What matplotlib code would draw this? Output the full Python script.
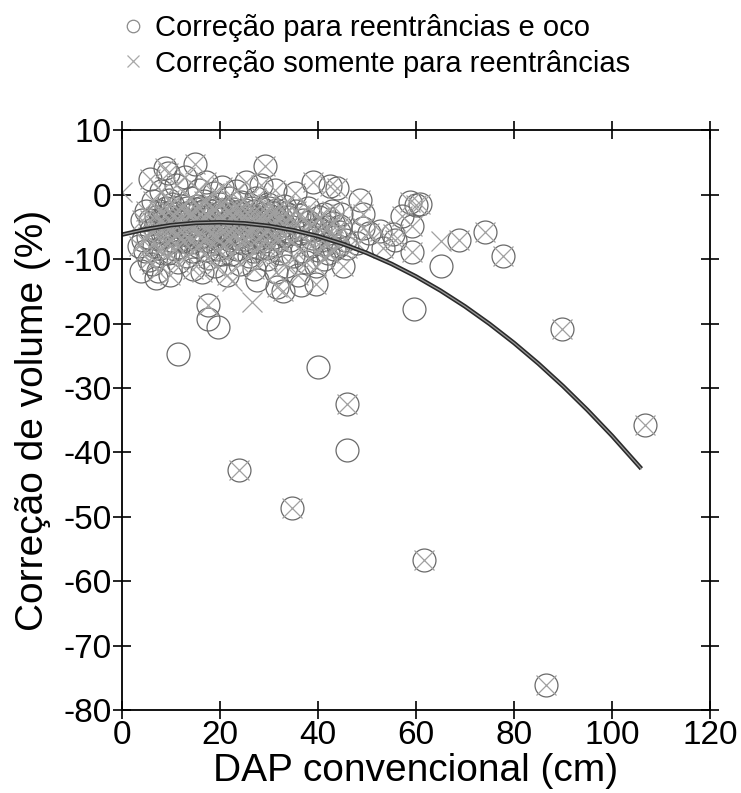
import matplotlib
matplotlib.use("Agg")
import matplotlib.pyplot as plt
from matplotlib.lines import Line2D

plt.rcParams['font.family'] = ['Liberation Sans', 'DejaVu Sans']
plt.rcParams['axes.unicode_minus'] = False

# --- dados: árvores onde as duas correções coincidem (círculo + x) ---
dap_both = [3.5, 4.0, 4.2, 4.7, 5.0, 5.5, 5.7, 6.1, 6.0, 6.3,
            7.4, 7.0, 7.5, 8.0, 8.3, 8.8, 8.5, 9.0, 9.4, 9.2, 9.8, 10.0, 9.6,
            10.5, 10.8, 11.0, 11.2, 11.5, 12.0, 12.3, 12.5, 12.8, 13.0, 13.3, 13.6, 14.0, 14.0,
            14.9, 14.5, 15.0, 15.2, 15.5, 15.8, 16.0, 16.3, 16.5, 16.8, 17.0, 17.2, 17.5, 17.8,
            18.2, 18.5, 18.8, 19.0, 19.3, 19.6, 20.0, 20.2, 20.5, 20.8, 21.2, 21.5, 21.8, 22.0,
            22.3, 22.6, 23.0, 23.3, 23.6, 24.0, 24.3, 24.6, 25.0, 25.3, 25.6, 25.9,
            26.3, 26.6, 27.0, 27.3, 27.6, 28.0, 28.3, 28.6, 29.0, 29.2, 29.5, 29.8,
            30.2, 30.5, 30.8, 31.2, 31.5, 31.6, 31.8, 32.2, 32.5, 32.9, 33.0, 33.5, 33.8,
            34.2, 34.6, 35.3, 35.0, 35.5, 36.0, 36.5, 37.0, 37.5, 38.0, 38.5, 39.0, 39.2, 39.7, 39.5,
            40.2, 40.8, 41.3, 41.8, 42.4, 42.8, 43.3, 43.8, 44.2, 44.8, 45.5, 45.9, 45.2,
            48.6, 49.2, 49.2, 48.0, 50.5, 52.7, 53.3, 55.4, 55.7, 57.1, 58.8, 59.1, 59.1, 60.8, 60.1,
            17.6, 23.9, 34.6, 45.9, 61.7, 86.5, 106.7, 89.9, 77.8, 74.1, 68.8]
corr_both = [-8.0, -4.0, -7.1, -8.7, -2.5, -10.2, 2.4, -10.7, -5.5, -1.0,
             -11.8, -3.5, -6.8, 0.5, -9.0, 4.2, -4.8, -2.0, 3.4, -7.5, -12.5, -5.5, -0.8,
             -3.0, -8.5, 1.5, -6.0, -10.5, -4.2, -1.8, -7.2, 2.8, -5.0, -9.5, -3.2, -0.5, -6.5,
             4.7, -11.5, -4.0, -2.2, -8.0, 0.8, -5.8, -12.0, -3.5, -1.0, -7.0, 2.0, -9.8, -4.8,
             -2.6, -6.2, 0.2, -11.0, -3.8, -8.5, -1.5, -5.2, 1.2, -7.8, -3.0, -12.5, -0.5, -5.8,
             -9.2, -2.2, -6.8, 0.5, -4.2, -10.8, -1.2, -7.5, -3.5, 2.0, -5.5, -9.5,
             -2.0, -6.5, -11.5, -0.5, -4.5, -8.2, 1.5, -3.0, -6.0, 4.5, -10.0, -1.5,
             -5.0, -7.8, -2.8, 0.8, -12.0, -14.4, -4.0, -9.0, -6.0, -14.9, -1.8, -11.0, -3.5,
             -7.0, -5.0, 0.2, -9.5, -2.5, -12.5, -6.0, -4.0, -10.5, -2.0, -8.0, 1.9, -5.5, -13.8, -11.0,
             -3.5, -7.0, -10.0, -5.0, 1.4, -2.5, -8.5, 1.1, -5.8, -3.0, -7.1, -8.2, -11.0,
             -0.9, -3.0, -5.1, -7.5, -6.0, -5.6, -8.2, -6.1, -7.1, -3.3, -1.2, -4.8, -8.9, -1.4, -1.6,
             -17.2, -42.7, -48.6, -32.5, -56.7, -76.2, -35.8, -20.8, -9.5, -5.8, -7.0]

# núcleo denso do agrupamento (também círculo + x)
dap_core = [7.5, 8.2, 8.8, 9.5, 10.2, 10.6, 11.3, 11.8, 12.2, 12.7, 13.2, 13.8, 14.3, 14.7,
            15.3, 15.7, 16.2, 16.6, 17.1, 17.6, 18.0, 18.4, 18.9, 19.4, 19.8, 20.3, 20.7, 21.1,
            21.6, 22.1, 22.5, 22.9, 23.4, 23.8, 24.2, 24.7, 25.2, 25.7, 26.1, 26.5, 27.0, 27.4,
            27.9, 28.3, 28.8, 29.3, 29.7, 30.1, 30.6, 31.0, 31.5, 32.0, 32.4, 33.0, 33.4, 34.0,
            8.0, 9.0, 10.0, 11.0, 12.0, 13.0, 14.0, 15.0, 16.0, 17.0, 18.0, 19.0, 20.0, 21.0,
            22.0, 23.0, 24.0, 25.0, 26.0, 27.0, 28.0, 29.0, 30.0, 31.0, 32.0, 33.0,
            6.8, 6.5, 7.8, 9.3, 11.5, 14.2, 17.3, 20.5, 23.5, 26.8, 29.6, 5.3, 5.8,
            36.2, 37.4, 38.2, 38.8, 40.5, 41.2, 41.6, 42.2, 43.0, 43.5, 44.0, 44.5, 42.0, 40.0, 36.8]
corr_core = [-2.5, -5.8, -3.2, -6.3, -1.5, -4.5, -2.8, -5.5, -3.6, -6.1, -2.0, -4.6, -3.0, -5.5,
             -1.8, -4.2, -6.5, -2.6, -4.9, -3.3, -5.9, -1.9, -4.4, -6.8, -2.9, -5.0, -3.6, -6.3,
             -2.3, -4.7, -3.2, -5.9, -2.7, -5.2, -3.7, -6.4, -2.3, -4.7, -3.3, -5.7, -2.6, -4.9,
             -3.7, -6.3, -2.2, -4.3, -5.6, -3.1, -4.6, -6.5, -2.4, -5.3, -3.6, -4.7, -2.9, -5.6,
             -3.8, -4.9, -7.0, -3.9, -6.9, -2.9, -7.4, -6.0, -2.1, -3.8, -7.2, -2.3, -6.0, -4.4,
             -7.1, -3.9, -2.6, -6.9, -4.1, -7.3, -4.1, -7.2, -2.0, -3.9, -7.1, -6.3,
             -5.2, -7.9, -8.2, -9.0, -8.1, -8.7, -8.6, -9.2, -8.4, -8.8, -8.3, -6.5, -3.9,
             -3.2, -5.6, -4.3, -6.8, -5.4, -3.0, -7.6, -6.0, -4.4, -6.6, -8.0, -4.8, -9.0, -8.6, -8.8]

# só círculo: correção para reentrâncias e oco
dap_oco = [11.4, 17.6, 19.5, 40.1, 46.0, 59.5, 65.1, 3.8, 7.0, 27.5, 36.5]
corr_oco = [-24.7, -19.3, -20.6, -26.8, -39.6, -17.7, -11.1, -11.8, -13.0, -13.2, -14.0]

# só x: correção somente para reentrâncias
dap_reen = [0.0, 65.2, 26.5, 22.4]
corr_reen = [0.4, -7.2, -16.7, -13.4]

# curva ajustada
curve_x = [0, 5, 10, 15, 20, 25, 30, 35, 40, 45, 50, 55, 60, 65, 70, 75, 80, 85, 90, 95, 100, 106]
curve_y = [-6.2, -5.34, -4.73, -4.38, -4.28, -4.44, -4.85, -5.52, -6.44, -7.62, -9.06, -10.74,
           -12.69, -14.89, -17.34, -20.05, -23.01, -26.23, -29.71, -33.44, -37.42, -42.54]

xticks = [0, 20, 40, 60, 80, 100, 120]
yticks = [10, 0, -10, -20, -30, -40, -50, -60, -70, -80]

fig = plt.figure(figsize=(7.41, 7.93), dpi=100)
ax = fig.add_axes([0.1646, 0.1047, 0.7935, 0.731])

circ_x = dap_both + dap_core + dap_oco
circ_y = corr_both + corr_core + corr_oco
ax.plot(circ_x, circ_y, linestyle='none', marker='o', markersize=16.5,
        markerfacecolor='none', markeredgecolor='#6a6a6a', markeredgewidth=0.9)

cross_x = dap_both + dap_core + dap_reen
cross_y = corr_both + corr_core + corr_reen
ax.plot(cross_x, cross_y, linestyle='none', marker='x', markersize=14,
        markeredgecolor='#a0a0a0', markeredgewidth=0.9)

ax.plot(curve_x, curve_y, color='#2a2a2a', linewidth=3.2, solid_capstyle='butt')
ax.plot(curve_x, curve_y, color='#9a9a9a', linewidth=0.9)

ax.set_xlim(0, 120)
ax.set_ylim(-80, 10)
ax.set_xticks(xticks)
ax.set_yticks(yticks)
ax.tick_params(direction='inout', length=13, width=1.2, labelsize=24, pad=1,
               top=True, right=True)
for s in ax.spines.values():
    s.set_linewidth(1.3)

ax.set_xlabel("DAP convencional (cm)", fontsize=28, labelpad=1)
ax.set_ylabel("Correção de volume (%)", fontsize=28, labelpad=9)

handles = [
    Line2D([], [], linestyle='none', marker='o', markersize=9, markerfacecolor='none',
           markeredgecolor='#8a8a8a', markeredgewidth=0.9),
    Line2D([], [], linestyle='none', marker='x', markersize=8,
           markeredgecolor='#a8a8a8', markeredgewidth=0.9),
]
fig.legend(handles, ["Correção para reentrâncias e oco", "Correção somente para reentrâncias"],
           loc='upper left', bbox_to_anchor=(0.125, 1.015), frameon=False, fontsize=21,
           handlelength=1.0, handletextpad=0.25, labelspacing=0.25)

fig.savefig("out.png", dpi=100)
